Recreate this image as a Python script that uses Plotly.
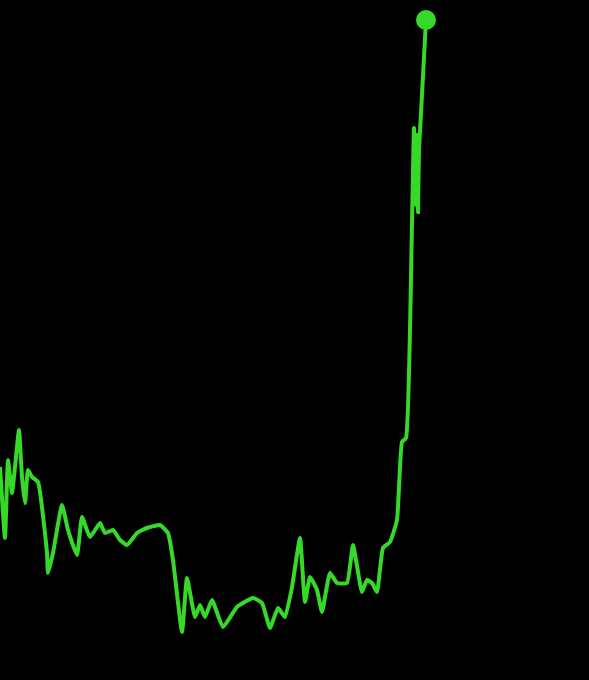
import plotly.graph_objects as go

# time steps and the traced price line (values are height above bottom)
t = [0, 5, 8, 12, 15, 19, 22, 25, 28, 32, 38, 47, 48, 53, 62, 68, 77, 82, 90, 100,
     105, 113, 120, 127, 137, 147, 160, 168, 173, 182, 187, 195, 200, 205, 212, 223,
     237, 253, 262, 270, 278, 285, 292, 300, 305, 310, 317, 322, 330, 337, 347, 353,
     362, 367, 372, 377, 383, 390, 397, 402, 406, 412, 414, 416, 417, 418, 419, 426]
price = [213, 142, 220, 187, 213, 250, 203, 177, 210, 203, 198, 127, 107, 127, 175, 150,
         125, 163, 143, 157, 147, 150, 140, 135, 147, 152, 155, 147, 120, 48, 102, 63,
         75, 63, 80, 53, 73, 82, 77, 52, 72, 63, 93, 142, 78, 103, 90, 68, 107, 97, 97,
         135, 88, 100, 97, 88, 132, 138, 160, 238, 242, 457, 552, 475, 545, 468, 530, 660]

green = "#36d928"

fig = go.Figure()
fig.add_trace(go.Scatter(x=t, y=price, mode="lines", line_shape="spline",
                         line=dict(color=green, width=4, smoothing=0.4), hoverinfo="skip"))
# end dot on the last value
fig.add_trace(go.Scatter(x=t[-1:], y=price[-1:], mode="markers",
                         marker=dict(color=green, size=20), hoverinfo="skip"))

fig.update_layout(width=589, height=680, margin=dict(l=0, r=0, t=0, b=0),
                  paper_bgcolor="black", plot_bgcolor="black", showlegend=False)
fig.update_xaxes(range=[0, 589], visible=False)
fig.update_yaxes(range=[0, 680], visible=False)

# drop the page's default body margin so the black chart fills the window
fig.write_html("out.html", config={"displayModeBar": False},
               post_script="document.body.style.margin='0';document.body.style.background='black';")
